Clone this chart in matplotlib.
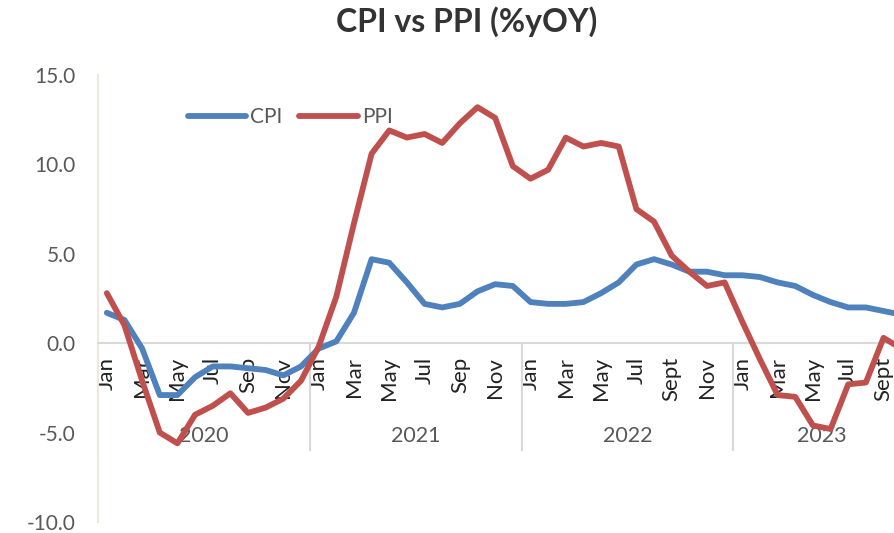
import matplotlib
matplotlib.use('Agg')
import matplotlib.pyplot as plt
import numpy as np
from matplotlib.ticker import FormatStrFormatter

plt.rcParams['font.family'] = ['Lato', 'DejaVu Sans']

# monthly data, Jan 2020 - Oct 2023
years = ['2020', '2021', '2022', '2023']
months_per_year = [12, 12, 12, 10]
month_labels = ['Jan', '', 'Mar', '', 'May', '', 'Jul', '', 'Sep', '', 'Nov', '',
                'Jan', '', 'Mar', '', 'May', '', 'Jul', '', 'Sep', '', 'Nov', '',
                'Jan', '', 'Mar', '', 'May', '', 'Jul', '', 'Sept', '', 'Nov', '',
                'Jan', '', 'Mar', '', 'May', '', 'Jul', '', 'Sept', '']

cpi = [1.7, 1.3, -0.3, -2.9, -2.9, -1.9, -1.3, -1.3, -1.4, -1.5, -1.8, -1.3,
       -0.3, 0.1, 1.7, 4.7, 4.5, 3.4, 2.2, 2.0, 2.2, 2.9, 3.3, 3.2,
       2.3, 2.2, 2.2, 2.3, 2.8, 3.4, 4.4, 4.7, 4.4, 4.0, 4.0, 3.8,
       3.8, 3.7, 3.4, 3.2, 2.7, 2.3, 2.0, 2.0, 1.8, 1.6]
ppi = [2.8, 1.0, -2.1, -5.0, -5.6, -4.0, -3.5, -2.8, -3.9, -3.6, -3.1, -2.1,
       -0.2, 2.6, 6.7, 10.6, 11.9, 11.5, 11.7, 11.2, 12.3, 13.2, 12.6, 9.9,
       9.2, 9.7, 11.5, 11.0, 11.2, 11.0, 7.5, 6.8, 4.9, 4.0, 3.2, 3.4,
       1.2, -0.9, -2.9, -3.0, -4.6, -4.8, -2.3, -2.2, 0.3, -0.3]

x = np.arange(len(cpi))

fig = plt.figure(figsize=(8.95, 5.33), dpi=100)
# plot area runs past the right edge (chart is cropped there)
ax = fig.add_axes([98 / 895, 11 / 533, (910 - 98) / 895, 447 / 533])

ax.plot(x, cpi, color='#4F81BD', lw=4.2, label='CPI',
        solid_joinstyle='round', solid_capstyle='round', zorder=5)
ax.plot(x, ppi, color='#C0504D', lw=4.2, label='PPI',
        solid_joinstyle='round', solid_capstyle='round', zorder=6)

ax.set_xlim(-0.5, len(x) - 0.5)
ax.set_ylim(-10, 15)
ax.set_yticks(np.arange(-10, 16, 5))
ax.yaxis.set_major_formatter(FormatStrFormatter('%.1f'))
ax.tick_params(axis='y', length=0, pad=16, labelsize=15, labelcolor='#595959')

ax.spines['top'].set_visible(False)
ax.spines['right'].set_visible(False)
ax.spines['left'].set_color('#EDE9DC')
ax.spines['left'].set_linewidth(1.5)
ax.spines['bottom'].set_position(('data', 0))
ax.spines['bottom'].set_color('#D9D9D9')
ax.spines['bottom'].set_linewidth(1.5)

# month labels
ax.set_xticks(x)
ax.set_xticklabels(month_labels, rotation=90)
ax.tick_params(axis='x', which='major', length=0, pad=10, labelsize=16,
               labelcolor='#222222')

# year separators + year labels
starts = np.cumsum([0] + months_per_year)[:-1]
ax.set_xticks(starts - 0.5, minor=True)
ax.tick_params(axis='x', which='minor', length=78, width=1.5,
               color='#D9D9D9', direction='out')
for yr, s, n in zip(years, starts, months_per_year):
    ax.annotate(yr, xy=(s + n / 2 - 0.5, 0), xycoords='data',
                xytext=(0, -67), textcoords='offset points',
                ha='center', va='center', fontsize=15.5, color='#595959')

fig.legend(loc='center left', bbox_to_anchor=(188 / 895, 1 - 117 / 533),
           frameon=False, ncol=2, fontsize=15, handlelength=2.8,
           handletextpad=0.2, columnspacing=0.8, borderpad=0,
           borderaxespad=0, labelcolor='#595959')

fig.text(467 / 895, 1 - 22 / 533, 'CPI vs PPI (%yOY)', ha='center',
         va='center', fontsize=23, fontweight='bold', color='#333333')

fig.savefig('out.png', dpi=100)
